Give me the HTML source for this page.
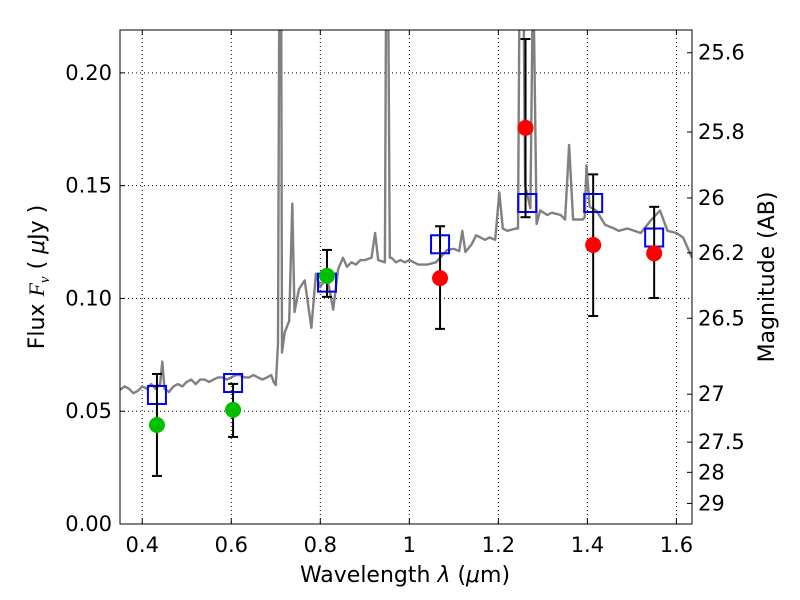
<!DOCTYPE html>
<html><head><meta charset="utf-8">
<style>
html,body{margin:0;padding:0;background:#fff;}
svg{display:block;font-family:"DejaVu Sans","Liberation Sans",sans-serif;}
</style></head>
<body>
<svg id="chart" width="800" height="600" viewBox="0 0 800 600" xmlns="http://www.w3.org/2000/svg">
<rect x="0" y="0" width="800" height="600" fill="#fff"/>
<defs><clipPath id="clip"><rect x="120" y="30" width="572" height="494"/></clipPath></defs>
<g id="grid"></g>
<g id="spec" clip-path="url(#clip)"></g>
<g id="marks"></g>
<rect x="120" y="30" width="572" height="494" fill="none" stroke="#000" stroke-width="1"/>
<g id="axes"></g>
<text x="405" y="582" font-size="22" text-anchor="middle">Wavelength  <tspan font-style="italic">λ</tspan> (<tspan font-style="italic">μ</tspan>m)</text>
<text transform="translate(44,277) rotate(-90)" font-size="22" text-anchor="middle">Flux  <tspan font-family="Liberation Serif,serif" font-style="italic">F<tspan font-size="15" dy="5">ν</tspan></tspan><tspan dy="-5">  (  </tspan><tspan font-style="italic">μ</tspan>Jy )</text>
<text transform="translate(774,277) rotate(-90)" font-size="22" text-anchor="middle">Magnitude (AB)</text>
</svg>
<script>
const xTicks=[0.4,0.6,0.8,1.0,1.2,1.4,1.6];
const xTickLabels=["0.4","0.6","0.8","1","1.2","1.4","1.6"];
const yTicks=[0,0.05,0.10,0.15,0.20];
const yTickLabels=["0.00","0.05","0.10","0.15","0.20"];
const magTicks=[25.6,25.8,26,26.2,26.5,27,27.5,28,29];
const magTickLabels=["25.6","25.8","26","26.2","26.5","27","27.5","28","29"];
const specLam=[0.35,0.36,0.37,0.38,0.39,0.40,0.41,0.42,0.43,0.44,0.445,0.45,0.46,0.47,0.48,0.49,0.50,0.51,0.52,0.53,0.54,0.55,0.56,0.57,0.58,0.59,0.60,0.61,0.62,0.63,0.64,0.65,0.66,0.67,0.68,0.69,0.695,0.70,0.705,0.708,0.712,0.714,0.72,0.73,0.737,0.742,0.752,0.765,0.78,0.79,0.80,0.815,0.829,0.84,0.851,0.86,0.87,0.88,0.89,0.90,0.915,0.923,0.93,0.945,0.948,0.952,0.956,0.96,0.97,0.98,0.99,1.00,1.02,1.04,1.06,1.085,1.10,1.112,1.119,1.126,1.14,1.15,1.17,1.18,1.193,1.202,1.21,1.22,1.24,1.244,1.248,1.256,1.26,1.272,1.278,1.286,1.294,1.31,1.32,1.34,1.35,1.359,1.368,1.39,1.394,1.398,1.405,1.42,1.44,1.46,1.47,1.49,1.52,1.54,1.563,1.58,1.60,1.615,1.635];
const specFlux=[0.0594,0.061,0.060,0.058,0.059,0.061,0.060,0.062,0.060,0.062,0.072,0.060,0.0585,0.061,0.062,0.061,0.063,0.064,0.062,0.064,0.064,0.063,0.064,0.065,0.065,0.064,0.065,0.066,0.066,0.065,0.065,0.066,0.065,0.064,0.065,0.066,0.063,0.0616,0.08,0.25,0.25,0.076,0.085,0.090,0.142,0.094,0.104,0.108,0.087,0.111,0.105,0.110,0.095,0.113,0.118,0.114,0.116,0.115,0.117,0.117,0.118,0.129,0.117,0.116,0.25,0.25,0.118,0.118,0.116,0.117,0.116,0.117,0.115,0.115,0.116,0.1215,0.122,0.121,0.130,0.1206,0.124,0.128,0.126,0.127,0.126,0.147,0.131,0.130,0.131,0.131,0.25,0.25,0.15,0.14,0.25,0.133,0.139,0.137,0.138,0.137,0.135,0.168,0.135,0.135,0.136,0.159,0.1406,0.139,0.1326,0.131,0.130,0.131,0.129,0.134,0.139,0.130,0.129,0.127,0.118];
const boxLam=[0.433,0.604,0.815,1.069,1.265,1.413,1.55];
const boxFlux=[0.0572,0.0625,0.107,0.124,0.1423,0.1423,0.127];
const greenLam=[0.433,0.604,0.815];
const greenFlux=[0.0439,0.0506,0.110];
const greenLo=[0.0213,0.0386,0.1007];
const greenHi=[0.0665,0.0621,0.1215];
const redLam=[1.069,1.261,1.413,1.55];
const redFlux=[0.109,0.1756,0.1237,0.120];
const redLo=[0.0865,0.136,0.0922,0.1002];
const redHi=[0.132,0.215,0.155,0.1406];

const X0=120,X1=692,Y0=524,Y1=30,LMIN=0.35,LMAX=1.635,FMIN=0,FMAX=0.219;
const xs=l=>X0+(l-LMIN)/(LMAX-LMIN)*(X1-X0);
const ys=f=>Y0-(f-FMIN)/(FMAX-FMIN)*(Y0-Y1);
const magToFlux=m=>Math.pow(10,(23.9-m)/2.5);
const NS="http://www.w3.org/2000/svg";
function mk(tag,attrs,parent){const e=document.createElementNS(NS,tag);for(const k in attrs)e.setAttribute(k,attrs[k]);parent.appendChild(e);return e;}
const grid=document.getElementById('grid'),axes=document.getElementById('axes'),spec=document.getElementById('spec'),marks=document.getElementById('marks');
xTicks.forEach((t,i)=>{const x=xs(t);
 let g=mk('line',{x1:x,x2:x,y1:Y1,y2:Y0,stroke:'#000','stroke-dasharray':'1,3','stroke-width':1},grid);
 
 let a=mk('line',{x1:x,x2:x,y1:Y0,y2:Y0-5,stroke:'#000'},axes);
 
 let b=mk('line',{x1:x,x2:x,y1:Y1,y2:Y1+5,stroke:'#000'},axes);
 
 let tx=mk('text',{x:x,y:Y0+28,'font-size':21,'text-anchor':'middle'},axes);tx.textContent=xTickLabels[i];
 
});
yTicks.forEach((t,i)=>{const y=ys(t);
 let g=mk('line',{x1:X0,x2:X1,y1:y,y2:y,stroke:'#000','stroke-dasharray':'1,3','stroke-width':1},grid);
 
 let a=mk('line',{x1:X0,x2:X0+5,y1:y,y2:y,stroke:'#000'},axes);
 
 let tx=mk('text',{x:X0-8,y:y+7,'font-size':21,'text-anchor':'end'},axes);tx.textContent=yTickLabels[i];
 
});
magTicks.forEach((m,i)=>{const y=ys(magToFlux(m));
 let a=mk('line',{x1:X1,x2:X1-5,y1:y,y2:y,stroke:'#000'},axes);
 
 let tx=mk('text',{x:X1+6,y:y+7,'font-size':21,'text-anchor':'start'},axes);tx.textContent=magTickLabels[i];
 
});
let d=specLam.map((l,i)=>(i?'L':'M')+xs(l).toFixed(1)+','+ys(specFlux[i]).toFixed(1)).join(' ');
let sp=mk('path',{d:d,fill:'none',stroke:'#808080','stroke-width':2.4,'stroke-linejoin':'round'},spec);

boxLam.forEach((l,i)=>{const x=xs(l),y=ys(boxFlux[i]);
 let r=mk('rect',{x:x-9,y:y-9,width:18,height:18,fill:'none',stroke:'#0000ff','stroke-width':2},marks);
 
});
function pts(lam,fl,lo,hi,color,name){lam.forEach((l,i)=>{const x=xs(l);
 let e=mk('line',{x1:x,x2:x,y1:ys(lo[i]),y2:ys(hi[i]),stroke:'#000','stroke-width':2},marks);
 
 [lo[i],hi[i]].forEach(v=>{let c=mk('line',{x1:x-5,x2:x+5,y1:ys(v),y2:ys(v),stroke:'#000','stroke-width':2},marks);
  });
 let p=mk('circle',{cx:x,cy:ys(fl[i]),r:8,fill:color},marks);
 
});}
pts(greenLam,greenFlux,greenLo,greenHi,'#00bf00','optical-flux-point');
pts(redLam,redFlux,redLo,redHi,'#ff0000','nir-flux-point');
</script>
</body></html>
